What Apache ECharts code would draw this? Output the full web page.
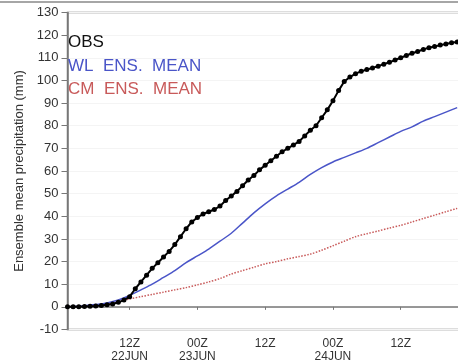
<!DOCTYPE html>
<html>
<head>
<meta charset="utf-8">
<script src="https://cdn.jsdelivr.net/npm/echarts@6/dist/echarts.min.js"></script>
<style>
html,body{margin:0;padding:0;background:#fff;}
#chart{width:458px;height:361px;}
</style>
</head>
<body>
<div id="chart"></div>
<script>
// hours since 00Z 22JUN
var obsHours = [];
for (var h = 1; h <= 70; h++) obsHours.push(h);
var obsVals = [0,0,0.1,0.2,0.3,0.4,0.6,0.9,1.3,2,3,4.5,
  8,11,14,17,19.5,22,24.5,27.5,31,34.5,37.5,39.5,
  41,42,43,44.5,47,49,51,53.5,56,58,60.5,62.5,
  64.5,66.5,68.5,70,71.5,73,75.5,78,80,83.5,87,91,
  95.5,99.5,101.5,103,104,104.8,105.5,106.3,107.2,108,109,110,
  111,112,112.8,113.7,114.4,115,115.6,116.1,116.6,117];

var ensHours = [1,4,6,8,10,12,14,16,18,20,22,24,26,28,30,32,34,36,38,40,42,44,46,48,50,52,54,56,58,60,62,64,66,68,70];
var wlVals = [0,0.5,1,1.7,3,5,7.5,10,13,16,19.5,22.5,25.5,29,32.5,37,41.5,45.5,49,52,55,58.5,61.5,64,66,68,70,72.5,75,77.5,79.5,82,84,86,88];
var cmVals = [0,0.3,0.7,1.3,2.3,3.5,4.5,5.5,6.5,7.5,8.5,9.7,11,12.5,14.5,16,17.5,19,20,21.2,22.2,23.3,25,27,29,31,32.3,33.5,34.8,36,37.5,39,40.5,42,43.5];

var tickHours = [12,24,36,48,60];
var tickLabels = ['12Z\n22JUN','00Z\n23JUN','12Z','00Z\n24JUN','12Z'];

function pairs(xs, ys){
  var out = [];
  for (var i = 0; i < xs.length; i++) out.push([xs[i], ys[i]]);
  return out;
}

var el = echarts.init(document.getElementById('chart'));
var opt = {
  backgroundColor: '#fff',
  animation: false,
  grid: {
    left: 67.5, top: 12.5, height: 317, width: 401,
    outerBoundsMode: 'none', containLabel: false,
    show: true, borderColor: '#777', borderWidth: 1.5
  },
  legend: {
    orient: 'vertical',
    left: 58, top: 26,
    icon: 'none',
    itemWidth: 0, itemGap: 0,
    textStyle: {fontFamily: 'Liberation Sans', fontSize: 17, lineHeight: 23.5},
    data: [
      {name: 'OBS', textStyle: {color: '#111'}},
      {name: 'WL  ENS.  MEAN', textStyle: {color: '#4a55c8'}},
      {name: 'CM  ENS.  MEAN', textStyle: {color: '#c85a5a'}}
    ]
  },
  xAxis: {
    type: 'value', min: 1, max: 72,
    axisLine: {lineStyle: {color: '#777', width: 1.5}},
    axisTick: {customValues: tickHours, length: 3, lineStyle: {color: '#777'}},
    axisLabel: {
      customValues: tickHours,
      color: '#333', fontFamily: 'Liberation Sans', fontSize: 12, lineHeight: 13,
      formatter: function(v){ return tickLabels[tickHours.indexOf(v)]; }
    },
    splitLine: {show: false}
  },
  yAxis: {
    type: 'value', min: -10, max: 130, interval: 10,
    name: 'Ensemble mean precipitation (mm)',
    nameLocation: 'middle', nameGap: 38, nameRotate: 90,
    nameTextStyle: {color: '#333', fontFamily: 'Liberation Sans', fontSize: 13},
    axisLine: {show: true, lineStyle: {color: '#777', width: 1.5}},
    axisTick: {show: true, length: 6, lineStyle: {color: '#777'}},
    axisLabel: {color: '#333', fontFamily: 'Liberation Sans', fontSize: 13, margin: 9},
    splitLine: {show: true, lineStyle: {color: '#f4f4f4'}}
  },
  series: [
    {
      name: 'OBS', type: 'line', data: pairs(obsHours, obsVals),
      symbol: 'circle', symbolSize: 5, showSymbol: true,
      itemStyle: {color: '#000'},
      lineStyle: {color: '#000', width: 2}, z: 3
    },
    {
      name: 'WL  ENS.  MEAN', type: 'line', data: pairs(ensHours, wlVals),
      symbol: 'none', smooth: 0.3,
      lineStyle: {color: '#4a55c8', width: 1.5}, z: 2
    },
    {
      name: 'CM  ENS.  MEAN', type: 'line', data: pairs(ensHours, cmVals),
      symbol: 'none', smooth: 0.3,
      lineStyle: {color: '#c85a5a', width: 1.5, type: 'dotted'}, z: 1
    }
  ],
  graphic: [{
    type: 'line', shape: {x1: 0, y1: 2, x2: 458, y2: 2},
    style: {stroke: '#888', lineWidth: 1.5}, silent: true
  }]
};
el.setOption(opt);
</script>
</body>
</html>
